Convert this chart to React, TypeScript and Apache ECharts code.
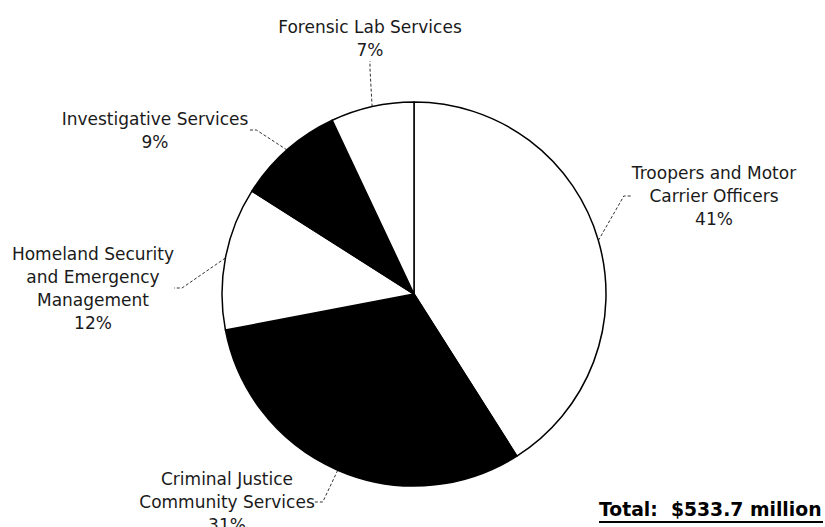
import React, { useEffect, useRef } from "react";
import * as echarts from "echarts";

const categories = [
  "Troopers and Motor\nCarrier Officers",
  "Criminal Justice\nCommunity Services",
  "Homeland Security\nand Emergency\nManagement",
  "Investigative Services",
  "Forensic Lab Services",
];
const shares = [41, 31, 12, 9, 7];
const sliceColors = ["#ffffff", "#000000", "#ffffff", "#000000", "#ffffff"];
const totalLabel = "Total:  $533.7 million";

// label centres (layout only)
const labelCenters = [
  [714, 196],
  [227, 502],
  [93, 288],
  [155, 130],
  [370, 38],
];

export default function App() {
  const ref = useRef<HTMLDivElement>(null);
  useEffect(() => {
    if (!ref.current) return;
    const chart = echarts.init(ref.current, null, { renderer: "svg" });
    const font = "DejaVu Sans";
    chart.setOption({
      animation: false,
      backgroundColor: "#ffffff",
      series: [
        {
          type: "pie",
          center: [414, 294],
          radius: 192,
          startAngle: 90,
          clockwise: true,
          avoidLabelOverlap: false,
          data: categories.map((name, i) => ({
            name,
            value: shares[i],
            itemStyle: { color: sliceColors[i] },
          })),
          itemStyle: { borderColor: "#000", borderWidth: 1.5 },
          label: {
            show: true,
            position: "outside",
            formatter: "{b}\n{c}%",
            fontFamily: font,
            fontSize: 17,
            lineHeight: 23,
            color: "#1a1a1a",
            align: "center",
          },
          labelLine: {
            show: true,
            length: 12,
            length2: 8,
            lineStyle: { color: "#333", width: 1, type: [3, 2] },
          },
          labelLayout: (p: any) => {
            const c = labelCenters[p.dataIndex];
            return { x: c[0], y: c[1], align: "center", verticalAlign: "middle" };
          },
          emphasis: { disabled: true },
        },
      ],
      graphic: [
        {
          type: "text",
          left: 599,
          top: 500,
          style: {
            text: totalLabel,
            font: `bold 18.8px "${font}"`,
            fill: "#000",
          },
        },
        {
          type: "line",
          shape: { x1: 599, y1: 522, x2: 823, y2: 522 },
          style: { stroke: "#000", lineWidth: 2 },
        },
      ],
    });
    return () => chart.dispose();
  }, []);
  return (
    <div
      ref={ref}
      style={{ position: "fixed", left: 0, top: 0, width: 825, height: 527 }}
    />
  );
}
